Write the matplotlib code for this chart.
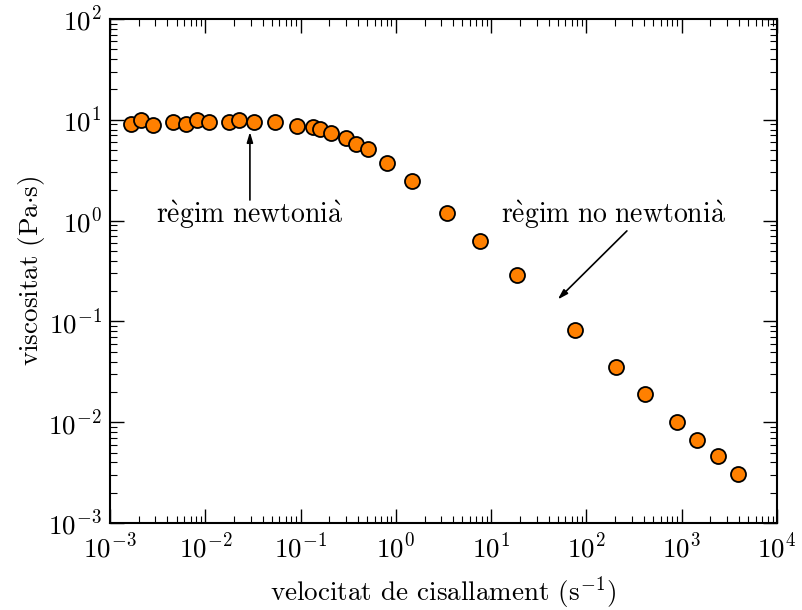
import numpy as np
import matplotlib
matplotlib.use("Agg")
import matplotlib.pyplot as plt

plt.rcParams['font.family'] = 'serif'
plt.rcParams['font.serif'] = ['cmr10']
plt.rcParams['mathtext.fontset'] = 'cm'
plt.rcParams['axes.formatter.use_mathtext'] = True
plt.rcParams['axes.unicode_minus'] = False

# velocitat de cisallament (1/s) i viscositat (Pa s)
shear_rate = [1.66e-3, 2.11e-3, 2.82e-3, 4.58e-3, 6.27e-3, 8.18e-3, 1.09e-2,
              1.77e-2, 2.26e-2, 3.25e-2, 0.0543, 0.0923, 0.136, 0.159, 0.207,
              0.297, 0.381, 0.513, 0.80, 1.47, 3.41, 7.57, 18.8, 75.7, 204,
              407, 891, 1445, 2415, 3860]
viscosity = [9.08, 9.96, 8.87, 9.5, 9.08, 9.96, 9.5,
             9.5, 9.96, 9.5, 9.58, 8.63, 8.55, 8.11, 7.34,
             6.64, 5.71, 5.09, 3.75, 2.47, 1.19, 0.632, 0.288, 0.0822, 0.0356,
             0.0191, 0.0101, 0.0067, 0.00465, 0.00308]

fig = plt.figure(figsize=(8.03, 6.10), dpi=100)
ax = fig.add_axes([0.137, 0.1426, 0.8306, 0.8263])

ax.plot(shear_rate, viscosity, 'o', color='#ff8000', markeredgecolor='black',
        markeredgewidth=1.3, markersize=10.8, linestyle='none')

ax.set_xscale('log')
ax.set_yscale('log')
ax.set_xlim(1e-3, 1e4)
ax.set_ylim(1e-3, 1e2)

ax.tick_params(which='both', direction='in', top=True, right=True, labelsize=19.5)
ax.tick_params(which='major', length=10, width=1)
ax.tick_params(which='minor', length=5, width=0.8)
for s in ax.spines.values():
    s.set_linewidth(1.5)
ax.tick_params(axis='x', pad=7)
ax.tick_params(axis='y', pad=6)

ax.set_xlabel(r'velocitat de cisallament (s$^{-1}$)', fontsize=19.5, labelpad=8)
ax.set_ylabel(r'viscositat (Pa$\cdot$s)', fontsize=19.5, labelpad=1)

arrow = dict(arrowstyle='-|>,head_length=0.6,head_width=0.18', color='black',
             lw=1.2, shrinkA=0, shrinkB=0)
ax.text(0.0294, 1.16, r'$\mathrm{r\grave{e}gim\ newtoni\grave{a}}$',
        ha='center', va='center', fontsize=20)
ax.annotate('', xy=(0.0294, 7.57), xytext=(0.0294, 1.60), arrowprops=arrow)
ax.text(194, 1.14, r'$\mathrm{r\grave{e}gim\ no\ newtoni\grave{a}}$',
        ha='center', va='center', fontsize=20)
ax.annotate('', xy=(50, 0.165), xytext=(266, 0.79), arrowprops=arrow)

fig.savefig('out.png', dpi=100)
